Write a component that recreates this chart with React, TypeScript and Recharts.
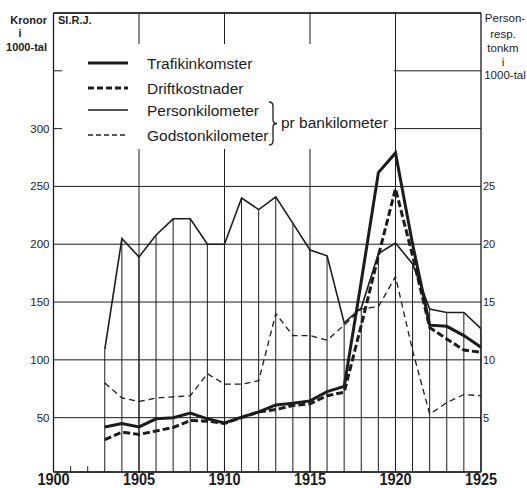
import {
  ComposedChart,
  XAxis,
  YAxis,
  CartesianGrid,
  ReferenceLine,
  Legend,
  Line,
  Bar,
} from "recharts";

const years = [
  1903, 1904, 1905, 1906, 1907, 1908, 1909, 1910, 1911, 1912, 1913, 1914,
  1915, 1916, 1917, 1918, 1919, 1920, 1921, 1922, 1923, 1924, 1925,
];
// kronor i 1000-tal per bankilometer (left axis)
const trafikinkomster = [
  42, 45, 42, 49, 50, 54, 49, 45.5, 50.5, 55, 61, 62.5, 64.5, 72.5, 77, 168,
  262, 279, 200, 130, 129, 121, 111,
];
const driftkostnader = [
  31, 37.5, 35.5, 38.5, 41.5, 47.5, 47, 45, 50, 55, 57, 60.5, 62, 69, 72, 130,
  190, 248, 190, 128, 118, 108.5, 106.5,
];
// person- resp. tonkm i 1000-tal per bankilometer (right axis)
const personkilometer = [
  10.9, 20.5, 18.9, 20.8, 22.2, 22.2, 20.0, 20.0, 24.0, 23.0, 24.1, 21.8, 19.5,
  19.0, 13.2, 14.5, 19.2, 20.1, 18.3, 14.4, 14.1, 14.1, 12.7,
];
const godstonkilometer = [
  8.0, 6.7, 6.4, 6.7, 6.8, 6.9, 8.8, 7.9, 7.9, 8.2, 14.0, 12.1, 12.1, 11.7,
  13.0, 14.4, 14.6, 17.2, 10.8, 5.3, 6.3, 7.0, 6.9,
];

const yearTicks = [1900, 1905, 1910, 1915, 1920, 1925];
const minorYearTicks = [1901, 1902];
const fullHeightYears = [1905, 1910, 1915, 1920];
const leftTicks = [50, 100, 150, 200, 250, 300, 350];
const rightTicks = [5, 10, 15, 20, 25];

const legendItems = [
  { name: "Trafikinkomster", width: 3, dash: undefined },
  { name: "Driftkostnader", width: 3, dash: "6 3" },
  { name: "Personkilometer", width: 1.5, dash: undefined },
  { name: "Godstonkilometer", width: 1.3, dash: "5 3" },
];

const data = years.map((year, i) => ({
  year,
  trafik: trafikinkomster[i],
  drift: driftkostnader[i],
  person: personkilometer[i],
  gods: godstonkilometer[i],
}));

const INK = "#1c1c1c";
const FONT = "'Liberation Sans', Arial, sans-serif";

const LeftTick = ({ x, y, payload }: any) =>
  payload.value === 350 ? (
    <g />
  ) : (
    <text x={x} y={y} dy={4} textAnchor="end" fontFamily={FONT} fontSize={11.5} fill={INK}>
      {payload.value}
    </text>
  );

const RightTick = ({ x, y, payload }: any) => (
  <text x={x} y={y} dy={4} textAnchor="start" fontFamily={FONT} fontSize={11} fill={INK}>
    {payload.value}
  </text>
);

// condensed-looking year labels: bold, stretched a little vertically
const YearTick = ({ x, y, payload }: any) => (
  <g transform={`translate(${x},${y + 13}) scale(1,1.15)`}>
    <text x={0} y={0} textAnchor="middle" fontFamily={FONT} fontWeight="bold" fontSize={14.5} fill={INK}>
      {payload.value}
    </text>
  </g>
);

const LegendBox = () => (
  <svg width={332} height={105} style={{ display: "block", background: "#fff" }}>
    {legendItems.map((item, i) => {
      const cy = [19, 44, 66, 91][i];
      return (
        <g key={item.name}>
          <line x1={26} x2={66} y1={cy} y2={cy} stroke={INK} strokeWidth={item.width} strokeDasharray={item.dash} />
          <text x={85} y={cy} dy={5.5} fontFamily={FONT} fontSize={15.5} fill={INK}>
            {item.name}
          </text>
        </g>
      );
    })}
    <path
      d="M207 58 Q211 58 211 62 L211 76 Q211 79.5 215 79.5 Q211 79.5 211 83 L211 97 Q211 101 207 101"
      fill="none"
      stroke={INK}
      strokeWidth={1.3}
    />
    <text x={219} y={79} dy={5} fontFamily={FONT} fontSize={15.5} fill={INK}>
      pr bankilometer
    </text>
  </svg>
);

export default function App() {
  return (
    <div style={{ position: "absolute", left: 0, top: 0, width: 527, height: 488, background: "#fff" }}>
      <ComposedChart width={527} height={488} data={data} margin={{ top: 13, right: 0, bottom: 0, left: 0 }}>
        <CartesianGrid yAxisId="left" vertical={false} stroke={INK} strokeWidth={1} />
        <XAxis
          dataKey="year"
          type="number"
          domain={[1900, 1925]}
          ticks={yearTicks}
          tickLine={false}
          tickSize={0}
          tickMargin={0}
          height={16}
          axisLine={{ stroke: INK, strokeWidth: 1.3 }}
          tick={<YearTick />}
        />
        <YAxis
          yAxisId="left"
          domain={[3, 400]}
          ticks={leftTicks}
          width={53.5}
          tickLine={false}
          tickSize={0}
          tickMargin={4}
          axisLine={{ stroke: INK, strokeWidth: 1.3 }}
          tick={<LeftTick />}
          allowDataOverflow
        />
        <YAxis
          yAxisId="right"
          orientation="right"
          domain={[0.3, 40]}
          ticks={rightTicks}
          width={46}
          tickLine={false}
          tickSize={0}
          tickMargin={2}
          axisLine={{ stroke: INK, strokeWidth: 1.3 }}
          tick={<RightTick />}
          allowDataOverflow
        />
        <Bar yAxisId="right" dataKey="person" barSize={1} fill={INK} legendType="none" isAnimationActive={false} />
        {fullHeightYears.map((yr) => (
          <ReferenceLine key={yr} x={yr} yAxisId="left" stroke={INK} strokeWidth={1} />
        ))}
        <ReferenceLine y={400} yAxisId="left" stroke={INK} strokeWidth={1.3} />
        {minorYearTicks.map((yr) => (
          <ReferenceLine
            key={yr}
            yAxisId="left"
            segment={[{ x: yr, y: 3 }, { x: yr, y: 8 }]}
            stroke={INK}
            strokeWidth={1}
          />
        ))}
        <Line yAxisId="right" dataKey="gods" name="Godstonkilometer" stroke={INK} strokeWidth={1.3} strokeDasharray="6 4" dot={false} isAnimationActive={false} />
        <Line yAxisId="right" dataKey="person" name="Personkilometer" stroke={INK} strokeWidth={1.6} dot={false} isAnimationActive={false} />
        <Line yAxisId="left" dataKey="drift" name="Driftkostnader" stroke={INK} strokeWidth={3} strokeDasharray="7 3" dot={false} isAnimationActive={false} />
        <Line yAxisId="left" dataKey="trafik" name="Trafikinkomster" stroke={INK} strokeWidth={3} dot={false} isAnimationActive={false} />
        <Legend
          layout="horizontal"
          verticalAlign="middle"
          align="center"
          content={<LegendBox />}
          wrapperStyle={{ position: "absolute", left: 62, top: 44, width: 332, height: 105 }}
        />
      </ComposedChart>
      <svg width={527} height={488} style={{ position: "absolute", left: 0, top: 0, pointerEvents: "none" }}>
        <g fontFamily={FONT} fontWeight="bold" fontSize={11} fill={INK}>
          <text x={47} y={24} textAnchor="end">Kronor</text>
          <text x={20} y={37} textAnchor="middle">i</text>
          <text x={47} y={51} textAnchor="end">1000-tal</text>
          <text x={58} y={24}>Sl.R.J.</text>
        </g>
        <g fontFamily={FONT} fontSize={11.5} fill={INK} textAnchor="middle">
          <text x={505} y={22}>Person-</text>
          <text x={503} y={38}>resp.</text>
          <text x={503} y={52}>tonkm</text>
          <text x={503} y={66}>i</text>
          <text x={505} y={79}>1000-tal</text>
        </g>
      </svg>
    </div>
  );
}
